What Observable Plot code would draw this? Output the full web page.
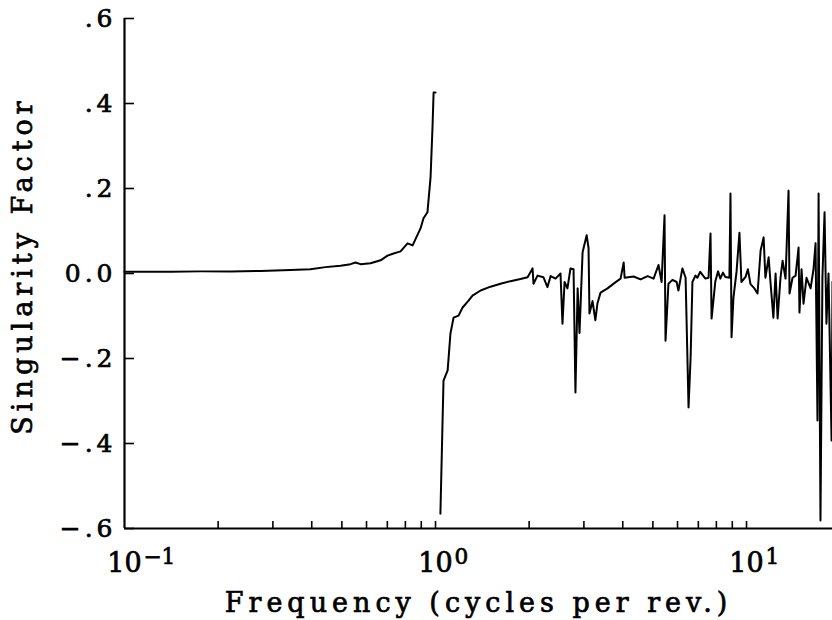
<!DOCTYPE html>
<html><head><meta charset="utf-8">
<script src="https://cdn.jsdelivr.net/npm/d3@7"></script>
<script src="https://cdn.jsdelivr.net/npm/@observablehq/plot@0.6"></script>
<style>
body{margin:0;background:#fff;}
svg text{stroke:#000;stroke-width:0.7px;}
g[aria-label="y-axis tick label"] text{letter-spacing:4px;}
g[aria-label="text"] text{letter-spacing:5px;}
</style>
</head><body><div id="chart"></div>
<script>
// Branch below the singularity (f < 1)
const lowFreq = [0.1, 0.113, 0.141, 0.176, 0.219, 0.274, 0.342, 0.396, 0.443, 0.495, 0.533, 0.553, 0.574, 0.618, 0.666, 0.701, 0.733, 0.772, 0.813, 0.844, 0.895, 0.915, 0.942, 0.964, 0.978, 0.986, 1.0];
const lowValue = [0.004, 0.004, 0.004, 0.005, 0.005, 0.006, 0.008, 0.010, 0.015, 0.018, 0.022, 0.026, 0.022, 0.024, 0.031, 0.042, 0.047, 0.052, 0.071, 0.066, 0.106, 0.130, 0.144, 0.226, 0.344, 0.426, 0.426];

// Branch above the singularity (f > 1)
const highFreq = [1.037, 1.061, 1.094, 1.117, 1.143, 1.186, 1.222, 1.277, 1.315, 1.396, 1.503, 1.618, 1.742, 1.876, 1.977, 2.051, 2.066, 2.128, 2.224, 2.291, 2.345, 2.432, 2.523, 2.56, 2.6, 2.656, 2.716, 2.779, 2.818, 2.864, 2.904, 2.971, 3.062, 3.105, 3.126, 3.198, 3.266, 3.317, 3.394, 3.573, 3.767, 3.936, 4.027, 4.056, 4.335, 4.563, 4.81, 5.025, 5.212, 5.333, 5.45, 5.49, 5.61, 5.78, 5.96, 6.04, 6.22, 6.37, 6.51, 6.61, 6.70, 6.85, 6.95, 7.1, 7.27, 7.38, 7.55, 7.66, 7.72, 7.94, 8.1, 8.24, 8.4, 8.55, 8.81, 8.88, 8.95, 9.08, 9.29, 9.49, 9.63, 9.93, 10.1, 10.3, 10.6, 10.85, 11.1, 11.35, 11.5, 11.78, 11.94, 12.2, 12.4, 12.59, 12.86, 13.06, 13.35, 13.65, 13.75, 14.06, 14.38, 14.7, 14.8, 15.03, 15.25, 15.59, 16.07, 16.42, 16.67, 16.91, 17.05, 17.29, 17.54, 17.82, 18.07, 18.35, 18.77, 18.9];
const highValue = [-0.565, -0.252, -0.228, -0.141, -0.104, -0.099, -0.080, -0.064, -0.052, -0.040, -0.031, -0.024, -0.018, -0.013, -0.009, 0.012, -0.024, -0.005, -0.009, -0.032, -0.006, -0.012, 0.000, -0.118, -0.020, -0.035, 0.012, 0.010, -0.280, -0.035, -0.140, 0.050, 0.090, 0.060, -0.094, -0.065, -0.110, -0.070, -0.045, -0.035, -0.022, -0.012, 0.026, -0.010, -0.007, -0.014, -0.006, -0.012, 0.020, -0.020, 0.137, -0.158, -0.024, -0.015, -0.020, -0.040, 0.012, -0.010, -0.315, -0.198, -0.020, -0.005, -0.010, 0.004, -0.006, -0.012, -0.010, 0.094, -0.106, -0.018, 0.005, -0.012, 0.002, -0.008, -0.010, 0.188, -0.150, -0.056, 0.005, 0.096, -0.020, -0.008, 0.010, -0.025, -0.035, -0.047, 0.054, 0.085, -0.010, 0.038, -0.020, -0.104, 0.000, -0.106, -0.010, 0.030, -0.012, 0.195, -0.047, -0.010, -0.005, 0.061, -0.092, 0.010, -0.071, -0.010, -0.035, 0.010, 0.071, -0.346, 0.188, -0.581, -0.010, 0.144, -0.118, 0.000, -0.393, -0.020];

const yTicks = [-0.6, -0.4, -0.2, 0, 0.2, 0.4, 0.6];
const yTickLabels = ["−.6", "−.4", "−.2", "0.0", ".2", ".4", ".6"];
const xDecades = [0.1, 1, 10];
const xExponents = ["−1", "0", "1"];
const xMinorTicks = [0.2, 0.3, 0.4, 0.5, 0.6, 0.7, 0.8, 0.9, 1, 2, 3, 4, 5, 6, 7, 8, 9, 10];
const xDomain = [0.1, 18.9];
const yDomain = [-0.6, 0.6];
const xTitle = "Frequency (cycles per rev.)";
const yTitle = "Singularity Factor";

const low = lowFreq.map((f, i) => ({f, v: lowValue[i]}));
const high = highFreq.map((f, i) => ({f, v: highValue[i]}));

const font = "'DejaVu Serif', serif";

const plot = Plot.plot({
  width: 832,
  height: 620,
  marginTop: 18,
  marginBottom: 92,
  marginLeft: 124,
  marginRight: 0,
  style: {fontFamily: font, fontSize: "25px", color: "#000", background: "#fff", overflow: "visible"},
  x: {type: "log", domain: xDomain},
  y: {domain: yDomain},
  marks: [
    Plot.axisY({ticks: yTicks, tickSize: -10, tickPadding: 18, strokeWidth: 1.6, label: null,
      tickFormat: d => yTickLabels[yTicks.indexOf(d)]}),
    Plot.axisX({ticks: xMinorTicks, tickSize: -7, strokeWidth: 1.6, label: null, tickFormat: () => ""}),
    Plot.axisX({ticks: xDecades, tickSize: 0, tickPadding: 24, label: null, fontSize: 27,
      tickFormat: d => xExponents[xDecades.indexOf(d)]}),
    Plot.ruleX([xDomain[0]], {strokeWidth: 2.2}),
    Plot.ruleY([yDomain[0]], {strokeWidth: 2.2}),
    Plot.line(low, {x: "f", y: "v", strokeWidth: 2}),
    Plot.line(high, {x: "f", y: "v", strokeWidth: 2}),
    Plot.text([xTitle], {frameAnchor: "bottom", lineAnchor: "bottom", dy: 83, fontSize: 27}),
    Plot.text([yTitle], {frameAnchor: "left", textAnchor: "middle", rotate: -90, lineAnchor: "middle", dx: -101, dy: -8, fontSize: 27})
  ]
});

d3.select(plot).selectAll('g[aria-label="x-axis tick label"] text').each(function() {
  const t = d3.select(this);
  const exp = t.text();
  if (!exp) return;
  t.text("");
  t.attr("text-anchor", "start");
  t.append("tspan").attr("dx", "-0.636em").text("10");
  t.append("tspan").attr("dy", "-0.36em").attr("dx", "0.08em").attr("font-size", "0.8em").text(exp);
});

document.getElementById("chart").appendChild(plot);
</script>
</body></html>
